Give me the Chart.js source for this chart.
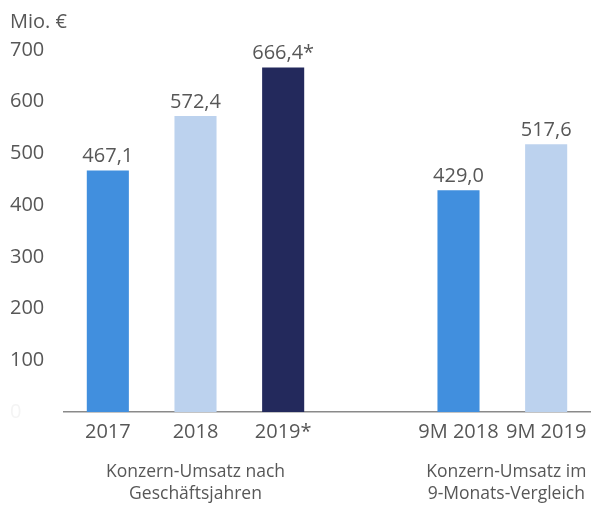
<!DOCTYPE html>
<html>
<head>
<meta charset="utf-8">
<script src="https://cdn.jsdelivr.net/npm/chart.js@4"></script>
<style>
  html, body { margin: 0; padding: 0; background: #fff; }
  #wrap { width: 598px; height: 505px; }
</style>
</head>
<body>
<div id="wrap"><canvas id="umsatzChart" width="598" height="505"></canvas></div>
<script>
// Umsatz in Mio. €
const categories = ['2017', '2018', '2019*', '', '9M 2018', '9M 2019'];
const umsatz = [467.1, 572.4, 666.4, null, 429.0, 517.6];
const valueLabels = ['467,1', '572,4', '666,4*', '', '429,0', '517,6'];
const barColors = ['#418fde', '#bcd2ee', '#23295c', '#ffffff', '#418fde', '#bcd2ee'];
const yTicks = [0, 100, 200, 300, 400, 500, 600, 700];
const unitLabel = 'Mio. €';
const groupLabels = [
    { lines: ['Konzern-Umsatz nach', 'Geschäftsjahren'], from: 1, to: 1 },
    { lines: ['Konzern-Umsatz im', '9-Monats-Vergleich'], from: 4, to: 5 }
];

const textColor = '#575757';
const fontFamily = '"Open Sans", "Noto Sans", sans-serif';

// draws the numbers above the bars, the unit and the group captions
const labelPlugin = {
    id: 'labelPlugin',
    afterDatasetsDraw(chart) {
        const ctx = chart.ctx;
        const meta = chart.getDatasetMeta(0);
        ctx.save();
        ctx.fillStyle = textColor;
        ctx.font = '20px ' + fontFamily;
        ctx.textAlign = 'center';
        ctx.textBaseline = 'bottom';
        meta.data.forEach((bar, i) => {
            if (umsatz[i] == null) return;
            ctx.fillText(valueLabels[i], bar.x, bar.y - 4);
        });

        ctx.textAlign = 'left';
        ctx.textBaseline = 'middle';
        ctx.fillText(unitLabel, 10, 22);

        const xScale = chart.scales.x;
        ctx.font = '17.5px ' + fontFamily;
        ctx.textAlign = 'center';
        groupLabels.forEach((g, gi) => {
            let cx = (xScale.getPixelForValue(g.from) + xScale.getPixelForValue(g.to)) / 2;
            if (gi === 1) cx += 4;
            g.lines.forEach((line, li) => {
                ctx.fillText(line, cx, 472 + li * 22);
            });
        });
        ctx.restore();
    }
};

const ctx = document.getElementById('umsatzChart').getContext('2d');
new Chart(ctx, {
    type: 'bar',
    data: {
        labels: categories,
        datasets: [{
            data: umsatz,
            backgroundColor: barColors,
            barPercentage: 0.48,
            categoryPercentage: 1
        }]
    },
    options: {
        responsive: false,
        animation: false,
        layout: {
            padding: { left: 10, right: 8, top: 50, bottom: 0 }
        },
        plugins: {
            legend: { display: false },
            tooltip: { enabled: false }
        },
        scales: {
            x: {
                grid: { display: false, drawTicks: false },
                border: { display: true, color: '#8a8a8a', width: 1.5 },
                ticks: {
                    color: textColor,
                    font: { family: fontFamily, size: 20 },
                    padding: 8,
                    maxRotation: 0,
                    autoSkip: false
                },
                afterFit(scale) { scale.height = 93; }
            },
            y: {
                min: 0,
                max: 700,
                grid: { display: false, drawTicks: false },
                border: { display: false },
                afterBuildTicks(scale) {
                    scale.ticks = yTicks.map(v => ({ value: v }));
                },
                ticks: {
                    color: (c) => c.tick.value === 0 ? '#f4f4f4' : textColor,
                    font: { family: fontFamily, size: 20 },
                    crossAlign: 'far',
                    padding: 0
                },
                afterFit(scale) { scale.width = 54; }
            }
        }
    },
    plugins: [labelPlugin]
});
</script>
</body>
</html>
